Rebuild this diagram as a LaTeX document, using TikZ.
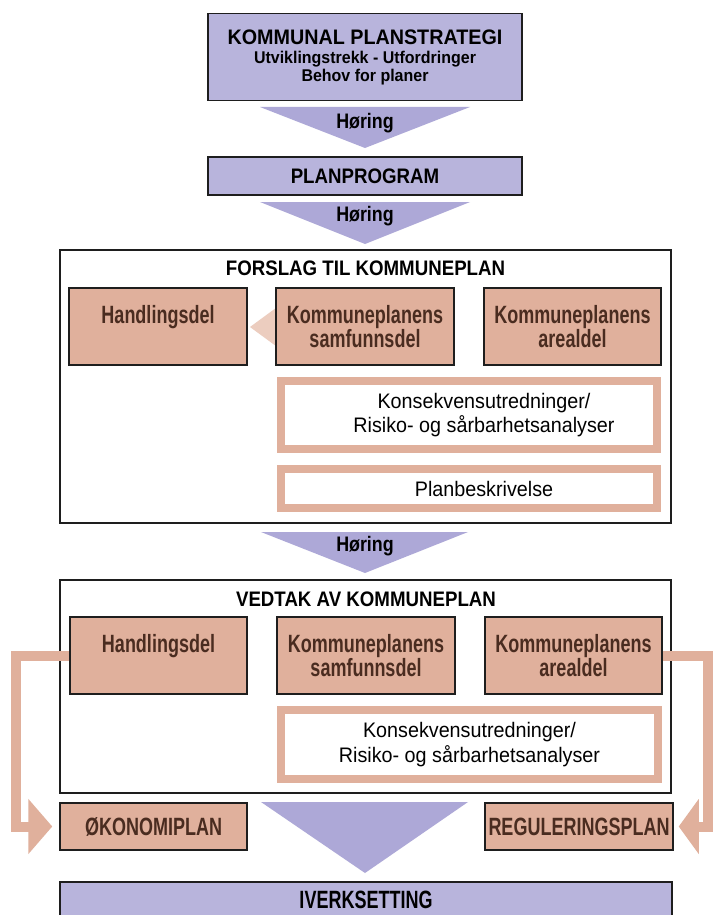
\documentclass[tikz,border=0pt]{standalone}
\usepackage{fontspec}
\setmainfont{Liberation Sans}[FakeStretch=0.85]
\newfontfamily\fWide{Liberation Sans}[FakeStretch=0.94]
\newfontfamily\fTitle{Liberation Sans}[FakeStretch=0.89]
\newfontfamily\fCond{Liberation Sans}[FakeStretch=0.72]
\newfontfamily\fHor{Liberation Sans}[FakeStretch=0.85]
\usetikzlibrary{arrows.meta}
\definecolor{lav}{HTML}{B8B4DC}
\definecolor{lavtri}{HTML}{ADA8D7}
\definecolor{salm}{HTML}{E0B09C}
\definecolor{salmlt}{HTML}{ECCDBF}
\definecolor{brn}{HTML}{4A2C20}
\definecolor{edge}{HTML}{1E1E1E}
\tikzset{
  lavbox/.style={draw=edge, line width=1.5pt, fill=lav, inner sep=0pt, align=center},
  frame/.style={draw=edge, line width=1.5pt, fill=white, inner sep=0pt},
  partbox/.style={draw=edge, line width=1.5pt, fill=salm, text=brn, align=center,
    font=\fCond\bfseries\fontsize{25}{24}\selectfont, inner sep=0pt},
  kubox/.style={draw=salm, line width=8pt, fill=white, inner sep=0pt},
  kutext/.style={align=center, inner sep=0pt, font=\fWide\fontsize{21}{24.5}\selectfont},
  title/.style={font=\fTitle\bfseries\fontsize{21}{24}\selectfont, inner sep=0pt},
  hortext/.style={font=\fHor\bfseries\fontsize{21}{24}\selectfont, inner sep=0pt},
  tri/.style={fill=lavtri},
  band/.style={draw=salm, line width=10pt, line join=miter},
}
\begin{document}
\begin{tikzpicture}[x=1pt,y=-1pt]
\useasboundingbox (0,0) rectangle (713,915);
\fill[white] (0,0) rectangle (713,915);

% top part
\node[lavbox, minimum width=314pt, minimum height=87pt, font=\fWide\bfseries\fontsize{21}{24}\selectfont] (strat) at (365,57)
  {KOMMUNAL PLANSTRATEGI\\[-5pt]{\fontsize{17}{20}\selectfont Utviklingstrekk - Utfordringer}\\[-6pt]{\fontsize{17}{20}\selectfont Behov for planer}};
\fill[tri] (260,107) -- (470,107) -- (365,148) -- cycle;
\node[hortext] (h1) at (365,123) {Høring};
\node[lavbox, minimum width=314pt, minimum height=38pt, title] (prog) at (365,176) {PLANPROGRAM};
\fill[tri] (260,202) -- (470,202) -- (365,244) -- cycle;
\node[hortext] (h2) at (365,216) {Høring};

% forslag
\node[frame, minimum width=611pt, minimum height=273pt] (forslag) at (365.5,386.5) {};
\node[title] (ftitle) at (365.5,268) {FORSLAG TIL KOMMUNEPLAN};
\fill[salmlt] (250,327) -- (280,305) -- (280,349) -- cycle;
\node[partbox, minimum width=178pt, minimum height=77pt] (fh) at (158,326.5) {Handlingsdel\\\mbox{}};
\node[partbox, minimum width=178pt, minimum height=77pt] (fs) at (365,326.5) {Kommuneplanens\\samfunnsdel};
\node[partbox, minimum width=177pt, minimum height=77pt] (fa) at (572.5,326.5) {Kommuneplanens\\arealdel};
\node[kubox, minimum width=376pt, minimum height=68pt] (fk) at (469,415) {};
\node[kutext] (fkt) at ([xshift=15pt]fk.center) {Konsekvensutredninger/\\Risiko- og sårbarhetsanalyser};
\node[kubox, minimum width=376pt, minimum height=39pt] (fp) at (469,488.5) {};
\node[kutext] (fpt) at ([xshift=15pt]fp.center) {Planbeskrivelse};

\fill[tri] (261,532) -- (468,532) -- (365,573) -- cycle;
\node[hortext] (h3) at (365,546) {Høring};

% vedtak
\node[frame, minimum width=611pt, minimum height=213pt] (vedtak) at (365.5,686.5) {};
\node[title] (vtitle) at (366,599) {VEDTAK AV KOMMUNEPLAN};
\node[partbox, minimum width=177pt, minimum height=77pt] (vh) at (158.5,655.5) {Handlingsdel\\\mbox{}};
\node[partbox, minimum width=178pt, minimum height=77pt] (vs) at (366,655.5) {Kommuneplanens\\samfunnsdel};
\node[partbox, minimum width=177pt, minimum height=77pt] (va) at (573.5,655.5) {Kommuneplanens\\arealdel};
\node[kubox, minimum width=377pt, minimum height=69pt] (vk) at (469.5,744.5) {};
\node[kutext] (vkt) at (vk.center) {Konsekvensutredninger/\\Risiko- og sårbarhetsanalyser};

% results
\node[partbox, minimum width=187pt, minimum height=47pt] (oko) at (153.5,826.5) {ØKONOMIPLAN};
\node[partbox, minimum width=188pt, minimum height=47pt] (rp) at (579,826.5) {REGULERINGSPLAN};
\fill[tri] (261,802) -- (468,802) -- (365,873) -- cycle;

\draw[band, -{Triangle[length=24pt,width=54pt]}] (vh.west) -- ++(-53,0) |- ([xshift=-7pt]oko.west);
\draw[band, -{Triangle[length=20pt,width=54pt]}] (va.east) -- ++(45,0) |- ([xshift=5pt]rp.east);

\node[fill=lav, minimum width=612pt, minimum height=36pt, inner sep=0pt,
  font=\fCond\bfseries\fontsize{25}{24}\selectfont] (iv) at (366,900) {IVERKSETTING};
\draw[edge, line width=1.5pt] (iv.south west) |- (iv.north east) -- (iv.south east);
\end{tikzpicture}
\end{document}
